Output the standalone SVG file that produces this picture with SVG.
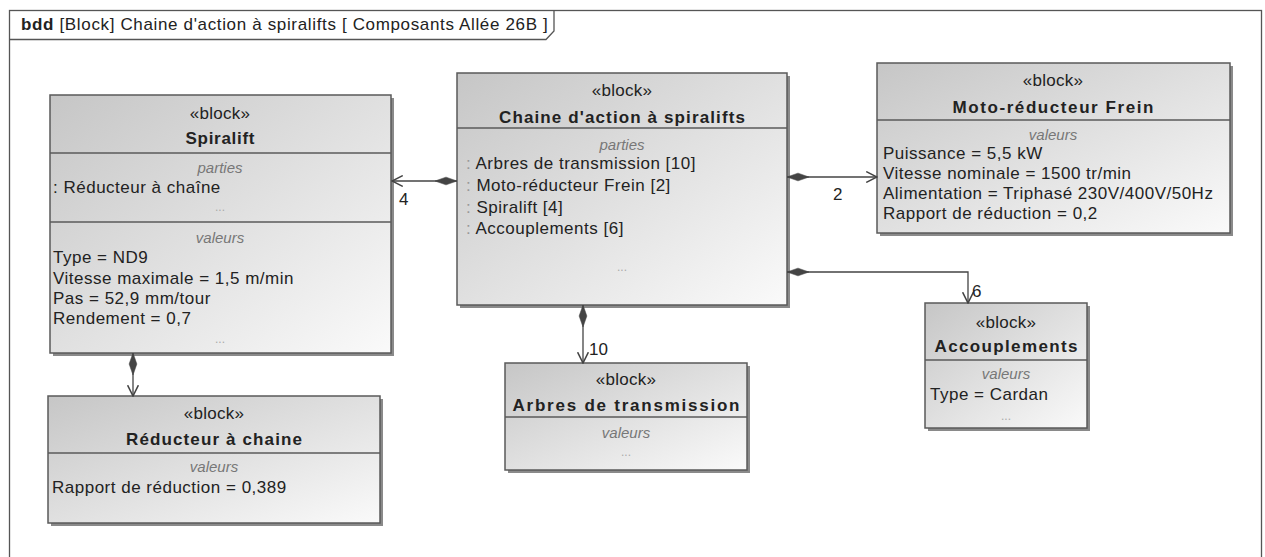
<svg xmlns="http://www.w3.org/2000/svg" width="1265" height="557" viewBox="0 0 1265 557">
<defs>
<linearGradient id="g" x1="0" y1="0" x2="1" y2="1">
<stop offset="0" stop-color="#c6c6c6"/>
<stop offset="1" stop-color="#fafafa"/>
</linearGradient>
<marker id="dia" markerUnits="userSpaceOnUse" markerWidth="22" markerHeight="10" viewBox="0 0 20 8" refX="0" refY="4" orient="auto">
<path d="M0,4 L10,0.5 L20,4 L10,7.5 Z" fill="#444" stroke="#444" stroke-width="0.5"/>
</marker>
<marker id="arr" markerUnits="userSpaceOnUse" markerWidth="12" markerHeight="12" viewBox="0 0 10 10" refX="9.5" refY="5" orient="auto">
<path d="M0.5,0.5 L9.5,5 L0.5,9.5" fill="none" stroke="#444" stroke-width="1.3"/>
</marker>
</defs>
<style>
text{font-family:"Liberation Sans",Arial,sans-serif;fill:#222}
.t{font-size:17px;letter-spacing:0.5px}
.h{font-size:17px;letter-spacing:0.65px}
.st{font-size:17px;letter-spacing:0.3px;text-anchor:middle}
.ti{font-size:17px;font-weight:bold;text-anchor:middle}
.c{font-size:15px;font-style:italic;fill:#777;text-anchor:middle}
.d{font-size:12px;fill:#aaa;text-anchor:middle}
.co{fill:#999}
.box{fill:url(#g);stroke:#5a5a5a;stroke-width:1.5}
.sh{fill:#8a8a8a}
.sep{stroke:#5a5a5a;stroke-width:1.3}
.cn{fill:none;stroke:#444;stroke-width:1.3}
.lb{font-size:17px}
</style>
<rect width="1265" height="557" fill="#fff"/>
<g id="frame">
<rect x="9.5" y="10.5" width="1252" height="560" fill="none" stroke="#555" stroke-width="1.3"/>
<path d="M9.5,39.5 L546,39.5 L554,31 L554,10.5" fill="none" stroke="#555" stroke-width="1.3"/>
<text x="21" y="30" class="h"><tspan font-weight="bold">bdd</tspan>  [Block] Chaine d'action à spiralifts [ Composants Allée 26B ]</text>
</g>
<g id="spiralift">
<rect x="53" y="98" width="341" height="258" class="sh"/>
<rect x="50" y="95" width="341" height="258" class="box"/>
<line x1="50" y1="153" x2="391" y2="153" class="sep"/>
<line x1="50" y1="222" x2="391" y2="222" class="sep"/>
<text x="220" y="119" class="st">«block»</text>
<text x="220" y="144" class="ti" textLength="69" lengthAdjust="spacing">Spiralift</text>
<text x="220" y="173" class="c">parties</text>
<text x="53" y="193" class="t">: Réducteur à chaîne</text>
<text x="220" y="211" class="d">...</text>
<text x="220" y="243" class="c">valeurs</text>
<text x="53" y="263" class="t">Type = ND9</text>
<text x="53" y="284" class="t">Vitesse maximale = 1,5 m/min</text>
<text x="53" y="304" class="t">Pas = 52,9 mm/tour</text>
<text x="53" y="324" class="t">Rendement = 0,7</text>
<text x="220" y="343" class="d">...</text>
</g>
<g id="chaine">
<rect x="460" y="76" width="330" height="232" class="sh"/>
<rect x="457" y="73" width="330" height="232" class="box"/>
<line x1="457" y1="128" x2="787" y2="128" class="sep"/>
<text x="622" y="96" class="st">«block»</text>
<text x="622" y="123" class="ti" textLength="246" lengthAdjust="spacing">Chaine d'action à spiralifts</text>
<text x="622" y="150" class="c">parties</text>
<text x="466" y="169" class="t"><tspan class="co">:</tspan> Arbres de transmission [10]</text>
<text x="466" y="191" class="t"><tspan class="co">:</tspan> Moto-réducteur Frein [2]</text>
<text x="466" y="213" class="t"><tspan class="co">:</tspan> Spiralift [4]</text>
<text x="466" y="234" class="t"><tspan class="co">:</tspan> Accouplements [6]</text>
<text x="622" y="271" class="d">...</text>
</g>
<g id="moto">
<rect x="880" y="66" width="353" height="170" class="sh"/>
<rect x="877" y="63" width="353" height="170" class="box"/>
<line x1="877" y1="120" x2="1230" y2="120" class="sep"/>
<text x="1053" y="86" class="st">«block»</text>
<text x="1053" y="113" class="ti" textLength="201" lengthAdjust="spacing">Moto-réducteur Frein</text>
<text x="1053" y="140" class="c">valeurs</text>
<text x="883" y="159" class="t">Puissance = 5,5 kW</text>
<text x="883" y="179" class="t">Vitesse nominale = 1500 tr/min</text>
<text x="883" y="199" class="t">Alimentation = Triphasé 230V/400V/50Hz</text>
<text x="883" y="219" class="t">Rapport de réduction = 0,2</text>
</g>
<g id="reducteur">
<rect x="51" y="399" width="332" height="127" class="sh"/>
<rect x="48" y="396" width="332" height="127" class="box"/>
<line x1="48" y1="453" x2="380" y2="453" class="sep"/>
<text x="214" y="419" class="st">«block»</text>
<text x="214" y="445" class="ti" textLength="176" lengthAdjust="spacing">Réducteur à chaine</text>
<text x="214" y="472" class="c">valeurs</text>
<text x="52" y="493" class="t">Rapport de réduction = 0,389</text>
</g>
<g id="arbres">
<rect x="508" y="366" width="242" height="107" class="sh"/>
<rect x="505" y="363" width="242" height="107" class="box"/>
<line x1="505" y1="417" x2="747" y2="417" class="sep"/>
<text x="626" y="385" class="st">«block»</text>
<text x="626" y="411" class="ti" textLength="227" lengthAdjust="spacing">Arbres de transmission</text>
<text x="626" y="438" class="c">valeurs</text>
<text x="626" y="456" class="d">...</text>
</g>
<g id="accouplements">
<rect x="928" y="306" width="162" height="125" class="sh"/>
<rect x="925" y="303" width="162" height="125" class="box"/>
<line x1="925" y1="360" x2="1087" y2="360" class="sep"/>
<text x="1006" y="328" class="st">«block»</text>
<text x="1006" y="352" class="ti" textLength="143" lengthAdjust="spacing">Accouplements</text>
<text x="1006" y="379" class="c">valeurs</text>
<text x="930" y="400" class="t">Type = Cardan</text>
<text x="1006" y="420" class="d">...</text>
</g>
<g id="connectors">
<path d="M457,181 L392,181" class="cn" marker-start="url(#dia)" marker-end="url(#arr)"/>
<path d="M787,177 L877,177" class="cn" marker-start="url(#dia)" marker-end="url(#arr)"/>
<path d="M787,272 L968,272 L968,303" class="cn" marker-start="url(#dia)" marker-end="url(#arr)"/>
<path d="M133,353 L133,396" class="cn" marker-start="url(#dia)" marker-end="url(#arr)"/>
<path d="M583,305 L583,363" class="cn" marker-start="url(#dia)" marker-end="url(#arr)"/>
<text x="399" y="205" class="lb">4</text>
<text x="833" y="200" class="lb">2</text>
<text x="972" y="297" class="lb">6</text>
<text x="589" y="355" class="lb">10</text>
</g>
</svg>
